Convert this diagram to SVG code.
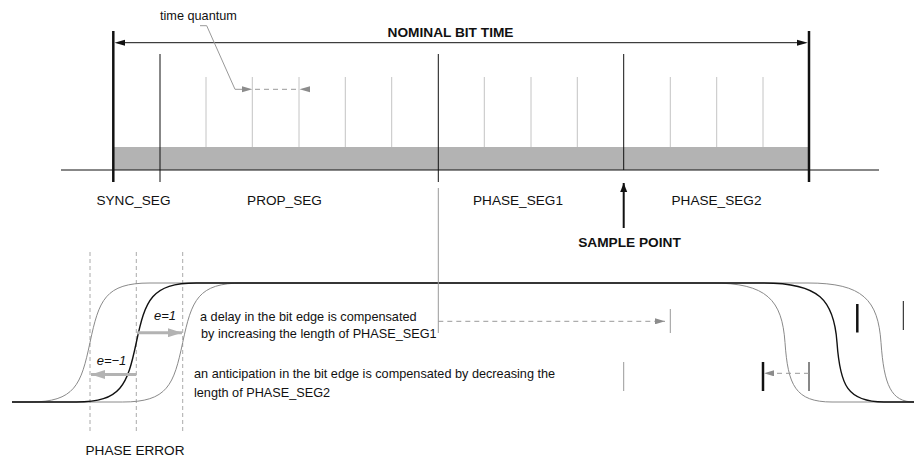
<svg xmlns="http://www.w3.org/2000/svg" width="914" height="460" viewBox="0 0 914 460">
<defs>
<style>
text{font-family:"Liberation Sans",Arial,sans-serif;fill:#111}
.lbl{font-size:13.6px}
.sm{font-size:12.7px}
.b{font-weight:bold;font-size:13.7px}
.it{font-style:italic;font-size:13px}
.mid{text-anchor:middle}
.thin{stroke:#111;stroke-width:1;fill:none}
.thick{stroke:#111;stroke-width:2.5;fill:none}
.tq{stroke:#c4c4c4;stroke-width:1}
.gl{stroke:#999;stroke-width:1;fill:none}
.dash{stroke:#999;stroke-width:1;stroke-dasharray:5 4;fill:none}
.vd{stroke:#aaa;stroke-width:1;stroke-dasharray:4 3;fill:none}
.garr{stroke:#b3b3b3;stroke-width:3;fill:none}
.cg{stroke:#8a8a8a;stroke-width:1;fill:none}
.cb{stroke:#111;stroke-width:1.4;fill:none}
</style>
<marker id="ahg" markerWidth="10" markerHeight="6" refX="10" refY="3" orient="auto" markerUnits="userSpaceOnUse"><path d="M0,0 L10,3 L0,6 Z" fill="#8c8c8c"/></marker>
<marker id="ahb" markerWidth="14" markerHeight="9" refX="14" refY="4.5" orient="auto" markerUnits="userSpaceOnUse"><path d="M0,0 L14,4.5 L0,9 Z" fill="#b3b3b3"/></marker>
<marker id="ahs" markerWidth="9" markerHeight="8" refX="9" refY="4" orient="auto" markerUnits="userSpaceOnUse"><path d="M0,0.5 L9,4 L0,7.5 Z" fill="#111"/></marker>
</defs>
<rect width="914" height="460" fill="#fff"/>

<g id="bit-time-bar">
<rect x="113.3" y="147" width="695.7" height="23" fill="#b3b3b3"/>
<line class="thin" x1="61" y1="170" x2="879" y2="170"/>
<g class="tq">
<line x1="206" y1="77" x2="206" y2="147"/><line x1="252.3" y1="77" x2="252.3" y2="147"/><line x1="299" y1="77" x2="299" y2="147"/><line x1="345.3" y1="77" x2="345.3" y2="147"/><line x1="391.7" y1="77" x2="391.7" y2="147"/>
<line x1="484.3" y1="77" x2="484.3" y2="147"/><line x1="531" y1="77" x2="531" y2="147"/><line x1="577.3" y1="77" x2="577.3" y2="147"/>
<line x1="670.3" y1="77" x2="670.3" y2="147"/><line x1="716.7" y1="77" x2="716.7" y2="147"/><line x1="763" y1="77" x2="763" y2="147"/>
</g>
<line class="thick" x1="113.3" y1="31" x2="113.3" y2="182"/>
<line class="thick" x1="809" y1="31" x2="809" y2="182"/>
<line class="thin" x1="160" y1="54" x2="160" y2="182"/>
<line class="thin" x1="438.3" y1="54" x2="438.3" y2="182"/>
<line class="thin" x1="623.7" y1="54" x2="623.7" y2="170"/>
</g>

<g id="nominal-bit-time">
<text class="b mid" x="450.5" y="36.7">NOMINAL BIT TIME</text>
</g>
<g id="time-quantum">
<text class="sm" x="160" y="20">time quantum</text>
</g>
<g id="labels">
<text class="lbl mid" x="133.5" y="205">SYNC_SEG</text>
<text class="lbl mid" x="284.5" y="205">PROP_SEG</text>
<text class="lbl mid" x="518" y="205">PHASE_SEG1</text>
<text class="lbl mid" x="716.5" y="205">PHASE_SEG2</text>
</g>
<g id="sample-point">
<text class="b mid" x="629.5" y="246.5">SAMPLE POINT</text>
</g>
<g id="phase-error">
<text class="lbl mid" x="135" y="455">PHASE ERROR</text>
<g class="vd">
<line x1="90" y1="252" x2="90" y2="432"/><line x1="136.3" y1="252" x2="136.3" y2="432"/><line x1="182.7" y1="252" x2="182.7" y2="432"/>
</g>
<text class="it" x="154" y="320">e=1</text>
<text class="it" x="96.7" y="365">e=−1</text>
</g>
<g id="notes">
<text class="sm" x="200" y="320.7">a delay in the bit edge is compensated</text>
<text class="sm" x="201" y="337.5">by increasing the length of PHASE_SEG1</text>
<text class="sm" x="194" y="378">an anticipation in the bit edge is compensated by decreasing the</text>
<text class="sm" x="194" y="396.7">length of PHASE_SEG2</text>
</g>

<g id="waveforms">
<path class="cg" d="M12,402 L30,402 C75,402 81,385 90,342.5 C99,300 105,283 150,283 L712,283 C767,283 782,300 785,342.5 C788,385 795,402 832,402 L914,402"/>
<path class="cg" d="M12,402 L122.7,402 C167.7,402 173.7,385 182.7,342.5 C191.7,300 197.7,283 242.7,283 L808,283 C863,283 878,300 881,342.5 C884,385 891,402 914,402"/>
<path class="cb" d="M12,402 L76.3,402 C121.3,402 127.3,385 136.3,342.5 C145.3,300 151.3,283 196.3,283 L764,283 C819,283 834,300 837,342.5 C840,385 847,402 884,402 L914,402"/>
</g>

<g id="markers">
<line class="gl" x1="670.3" y1="309" x2="670.3" y2="333"/>
<line class="gl" x1="623.7" y1="362" x2="623.7" y2="391"/>
<line class="thick" x1="763" y1="362" x2="763" y2="391"/>
<line class="thin" x1="809" y1="362" x2="809" y2="391"/>
<line class="thick" x1="857.3" y1="304" x2="857.3" y2="332.5"/>
<line class="thin" x1="903.3" y1="301" x2="903.3" y2="330"/>
</g>

<g id="connectors">
<line class="thin" x1="125" y1="42.7" x2="797" y2="42.7"/>
<path d="M114.5,42.7 L125,39.7 L125,45.7 Z" fill="#111"/>
<path d="M807.8,42.7 L797,39.7 L797,45.7 Z" fill="#111"/>
<path class="gl" d="M200,25.7 L206.7,25.7 L235,89.3 L243,89.3"/>
<path d="M252.3,89.3 L242,86.3 L242,92.3 Z" fill="#8c8c8c"/>
<line class="dash" x1="255" y1="89.3" x2="299" y2="89.3"/>
<path d="M299.5,89.3 L310,86.3 L310,92.3 Z" fill="#8c8c8c"/>
<line stroke="#111" stroke-width="2" x1="623.7" y1="228" x2="623.7" y2="183" marker-end="url(#ahs)"/>
<line class="gl" x1="438.3" y1="188" x2="438.3" y2="333"/>
<line class="dash" x1="438.3" y1="321.3" x2="665" y2="321.3" marker-end="url(#ahg)"/>
<line class="dash" x1="809" y1="373.3" x2="764" y2="373.3" marker-end="url(#ahg)"/>
<line class="garr" x1="137.3" y1="332.7" x2="182" y2="332.7" marker-end="url(#ahb)"/>
<line class="garr" x1="136.3" y1="374.5" x2="91" y2="374.5" marker-end="url(#ahb)"/>
</g>
</svg>
